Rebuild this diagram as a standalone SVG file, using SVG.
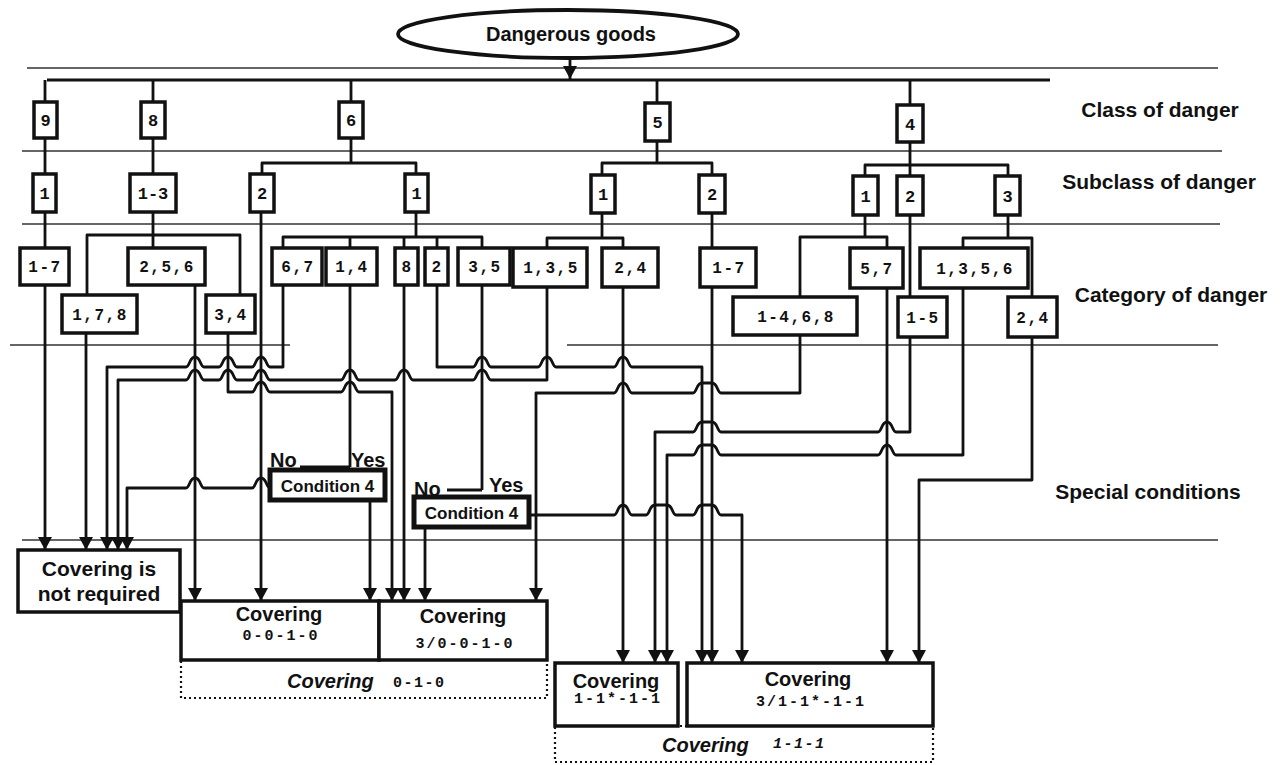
<svg xmlns="http://www.w3.org/2000/svg" width="1286" height="765" viewBox="0 0 1286 765">
<style>
.bg{fill:#fff}
.sep{stroke:#333;stroke-width:1.6;fill:none}
.ln{stroke:#111;stroke-width:2.8;fill:none;stroke-linejoin:round}
.box{fill:#fff;stroke:#111;stroke-width:3.5}
.cond{fill:#fff;stroke:#111;stroke-width:5}
.dot{fill:none;stroke:#111;stroke-width:2.2;stroke-dasharray:2 3}
.num{font-family:"Liberation Mono","DejaVu Sans Mono",monospace;font-weight:bold;font-size:17px;text-anchor:middle;fill:#111}
.cat{font-family:"Liberation Mono","DejaVu Sans Mono",monospace;font-weight:bold;font-size:16px;letter-spacing:1.5px;text-anchor:middle;fill:#111}
.code{font-family:"Liberation Mono","DejaVu Sans Mono",monospace;font-weight:bold;font-size:15px;letter-spacing:2px;text-anchor:middle;fill:#111}
.lab{font-family:"Liberation Sans",Arial,sans-serif;font-weight:bold;font-size:21px;text-anchor:middle;fill:#111}
.cov{font-family:"Liberation Sans",Arial,sans-serif;font-weight:bold;font-size:20px;text-anchor:middle;fill:#111}
.yn{font-family:"Liberation Sans",Arial,sans-serif;font-weight:bold;font-size:20px;fill:#111}
.ct{font-family:"Liberation Sans",Arial,sans-serif;font-weight:bold;font-size:17px;text-anchor:middle;fill:#111}
.it{font-family:"Liberation Sans",Arial,sans-serif;font-weight:bold;font-style:italic;font-size:20px;fill:#111}
.itc{font-family:"Liberation Mono","DejaVu Sans Mono",monospace;font-weight:bold;font-size:15px;letter-spacing:1.5px;fill:#111}
</style>
<defs>
<marker id="ah" markerUnits="userSpaceOnUse" markerWidth="13" markerHeight="14" viewBox="0 0 13 14" refX="13" refY="7" orient="auto"><path d="M0,0 L13,7 L0,14 z" fill="#111"/></marker>
</defs>
<rect class="bg" x="0" y="0" width="1286" height="765"/>

<g id="separators">
<path class="sep" d="M27,68 H1218"/>
<path class="sep" d="M22,151 H1222"/>
<path class="sep" d="M22,224 H1220"/>
<path class="sep" d="M10,345 H290 M567,345 H1218"/>
<path class="sep" d="M22,540 H1218"/>
</g>

<g id="row-labels">
<text class="lab" x="1160" y="117">Class of danger</text>
<text class="lab" x="1159" y="189">Subclass of danger</text>
<text class="lab" x="1171" y="302">Category of danger</text>
<text class="lab" x="1148" y="499">Special conditions</text>
</g>

<g id="connectors">
<path class="ln" d="M570,58 V79" marker-end="url(#ah)"/>
<path class="ln" d="M47,80 H1050"/>
<path class="ln" d="M45,80 V102 M153,80 V102 M351,80 V102 M657,80 V103 M910,80 V105"/>
<path class="ln" d="M45,138 V174 M153,138 V174"/>
<path class="ln" d="M351,138 V163 M262,174 V163 H416 V174"/>
<path class="ln" d="M657,141 V163 M602,175 V163 H712 V175"/>
<path class="ln" d="M910,142 V176 M865,176 V165 H1008 V176"/>
<path class="ln" d="M45,212 V248"/>
<path class="ln" d="M153,212 V248 M87,295 V235 H240 V295"/>
<path class="ln" d="M416,212 V237 M283,248 V237 H482 V248 M350,237 V248 M404,237 V248 M437,237 V248"/>
<path class="ln" d="M602,213 V238 M547,248 V238 H623 V248"/>
<path class="ln" d="M712,213 V248"/>
<path class="ln" d="M865,215 V237 M800,297 V237 H887 V248"/>
<path class="ln" d="M910,215 V297"/>
<path class="ln" d="M1008,215 V238 M963,248 V238 H1032 V297"/>

<path class="ln" d="M45,285 V550" marker-end="url(#ah)"/>
<path class="ln" d="M86,333 V550" marker-end="url(#ah)"/>
<path class="ln" d="M283,285 V367 L270,367 C266,367 267,357 261,357 C255,357 256,367 252,367 L237,367 C233,367 234,357 228,357 C222,357 223,367 219,367 L204,367 C200,367 201,357 195,357 C189,357 190,367 186,367 L107,367 V550" marker-end="url(#ah)"/>
<path class="ln" d="M547,287 V380 L491,380 C487,380 488,370 482,370 C476,370 477,380 473,380 L413,380 C409,380 410,370 404,370 C398,370 399,380 395,380 L359,380 C355,380 356,370 350,370 C344,370 345,380 341,380 L270,380 C266,380 267,370 261,370 C255,370 256,380 252,380 L237,380 C233,380 234,370 228,370 C222,370 223,380 219,380 L204,380 C200,380 201,370 195,370 C189,370 190,380 186,380 L118,380 V550" marker-end="url(#ah)"/>
<path class="ln" d="M270,488 C266,488 267,478 261,478 C255,478 256,488 252,488 L204,488 C200,488 201,478 195,478 C189,478 190,488 186,488 L127,488 V550" marker-end="url(#ah)"/>
<path class="ln" d="M195,285 V601" marker-end="url(#ah)"/>
<path class="ln" d="M261,212 V601" marker-end="url(#ah)"/>
<path class="ln" d="M228,333 V392 L252,392 C256,392 255,382 261,382 C267,382 266,392 270,392 L341,392 C345,392 344,382 350,382 C356,382 355,392 359,392 L392,392 V601" marker-end="url(#ah)"/>
<path class="ln" d="M350,285 V467 M300,467 H350"/>
<path class="ln" d="M370,500 V601" marker-end="url(#ah)"/>
<path class="ln" d="M404,285 V601" marker-end="url(#ah)"/>
<path class="ln" d="M482,285 V490 M447,490 H482"/>
<path class="ln" d="M425,527 V601" marker-end="url(#ah)"/>
<path class="ln" d="M800,335 V393 L721,393 C717,393 718,383 712,383 L702,383 C696,383 697,393 693,393 L632,393 C628,393 629,383 623,383 C617,383 618,393 614,393 L536,393 V601" marker-end="url(#ah)"/>
<path class="ln" d="M437,285 V367 L473,367 C477,367 476,357 482,357 C488,357 487,367 491,367 L538,367 C542,367 541,357 547,357 C553,357 552,367 556,367 L614,367 C618,367 617,357 623,357 C629,357 628,367 632,367 L702,367 V663" marker-end="url(#ah)"/>
<path class="ln" d="M529,515 L614,515 C618,515 617,505 623,505 C629,505 628,515 632,515 L646,515 C650,515 649,505 655,505 L667,505 C673,505 672,515 676,515 L693,515 C697,515 696,505 702,505 L712,505 C718,505 717,515 721,515 L742,515 V663" marker-end="url(#ah)"/>
<path class="ln" d="M623,287 V663" marker-end="url(#ah)"/>
<path class="ln" d="M712,287 V663" marker-end="url(#ah)"/>
<path class="ln" d="M887,288 V663" marker-end="url(#ah)"/>
<path class="ln" d="M910,337 V432 L896,432 C892,432 893,422 887,422 C881,422 882,432 878,432 L721,432 C717,432 718,422 712,422 L702,422 C696,422 697,432 693,432 L655,432 V663" marker-end="url(#ah)"/>
<path class="ln" d="M963,288 V455 L896,455 C892,455 893,445 887,445 C881,445 882,455 878,455 L721,455 C717,455 718,445 712,445 L702,445 C696,445 697,455 693,455 L667,455 V663" marker-end="url(#ah)"/>
<path class="ln" d="M1032,337 V480 H919 V663" marker-end="url(#ah)"/>
</g>

<g id="root"><ellipse cx="568" cy="34" rx="170" ry="24" fill="#fff" stroke="#111" stroke-width="3.8"/><text class="lab" x="571" y="41" style="font-size:20px">Dangerous goods</text></g>

<g id="class-9"><rect class="box" x="34" y="102" width="23" height="36"/><text class="num" x="45.5" y="126">9</text></g>
<g id="class-8"><rect class="box" x="141" y="102" width="24" height="36"/><text class="num" x="153" y="126">8</text></g>
<g id="class-6"><rect class="box" x="339" y="102" width="24" height="36"/><text class="num" x="351" y="126">6</text></g>
<g id="class-5"><rect class="box" x="645" y="103" width="25" height="38"/><text class="num" x="657.5" y="128">5</text></g>
<g id="class-4"><rect class="box" x="897" y="105" width="26" height="37"/><text class="num" x="910" y="130">4</text></g>

<g id="sub-9-1"><rect class="box" x="33" y="174" width="23" height="38"/><text class="num" x="44.5" y="199">1</text></g>
<g id="sub-8-1-3"><rect class="box" x="130" y="174" width="46" height="38"/><text class="num" x="153" y="199">1-3</text></g>
<g id="sub-6-2"><rect class="box" x="250" y="174" width="24" height="38"/><text class="num" x="262" y="199">2</text></g>
<g id="sub-6-1"><rect class="box" x="405" y="174" width="23" height="38"/><text class="num" x="416.5" y="199">1</text></g>
<g id="sub-5-1"><rect class="box" x="591" y="175" width="24" height="38"/><text class="num" x="603" y="200">1</text></g>
<g id="sub-5-2"><rect class="box" x="699" y="175" width="26" height="38"/><text class="num" x="712" y="200">2</text></g>
<g id="sub-4-1"><rect class="box" x="853" y="176" width="25" height="39"/><text class="num" x="865.5" y="202">1</text></g>
<g id="sub-4-2"><rect class="box" x="897" y="176" width="26" height="39"/><text class="num" x="910" y="202">2</text></g>
<g id="sub-4-3"><rect class="box" x="995" y="176" width="25" height="39"/><text class="num" x="1007.5" y="202">3</text></g>

<g id="cat-9-1-7"><rect class="box" x="20" y="248" width="49" height="37"/><text class="cat" x="45" y="272">1-7</text></g>
<g id="cat-8-256"><rect class="box" x="128" y="248" width="77" height="37"/><text class="cat" x="167" y="272">2,5,6</text></g>
<g id="cat-8-178"><rect class="box" x="62" y="295" width="75" height="38"/><text class="cat" x="100" y="320">1,7,8</text></g>
<g id="cat-8-34"><rect class="box" x="206" y="295" width="49" height="38"/><text class="cat" x="231" y="320">3,4</text></g>
<g id="cat-6-67"><rect class="box" x="272" y="248" width="50" height="37"/><text class="cat" x="298" y="272">6,7</text></g>
<g id="cat-6-14"><rect class="box" x="326" y="248" width="51" height="37"/><text class="cat" x="352" y="272">1,4</text></g>
<g id="cat-6-8"><rect class="box" x="395" y="248" width="23" height="37"/><text class="cat" x="407" y="272">8</text></g>
<g id="cat-6-2"><rect class="box" x="425" y="248" width="23" height="37"/><text class="cat" x="437" y="272">2</text></g>
<g id="cat-6-35"><rect class="box" x="458" y="248" width="52" height="37"/><text class="cat" x="485" y="272">3,5</text></g>
<g id="cat-5-135"><rect class="box" x="513" y="248" width="74" height="39"/><text class="cat" x="551" y="273">1,3,5</text></g>
<g id="cat-5-24"><rect class="box" x="602" y="248" width="56" height="39"/><text class="cat" x="631" y="273">2,4</text></g>
<g id="cat-5-1-7"><rect class="box" x="700" y="248" width="56" height="39"/><text class="cat" x="729" y="273">1-7</text></g>
<g id="cat-4-1-468"><rect class="box" x="733" y="297" width="124" height="38"/><text class="cat" x="796" y="322">1-4,6,8</text></g>
<g id="cat-4-57"><rect class="box" x="850" y="248" width="53" height="40"/><text class="cat" x="877" y="274">5,7</text></g>
<g id="cat-4-1-5"><rect class="box" x="898" y="297" width="49" height="40"/><text class="cat" x="923" y="323">1-5</text></g>
<g id="cat-4-1356"><rect class="box" x="920" y="248" width="108" height="40"/><text class="cat" x="975" y="274">1,3,5,6</text></g>
<g id="cat-4-24"><rect class="box" x="1008" y="297" width="49" height="40"/><text class="cat" x="1033" y="323">2,4</text></g>

<g id="condition-1"><rect class="cond" x="270" y="470" width="115" height="30"/><text class="ct" x="327.5" y="492">Condition 4</text><text class="yn" x="270" y="467">No</text><text class="yn" x="351" y="467">Yes</text></g>
<g id="condition-2"><rect class="cond" x="414" y="497" width="115" height="30"/><text class="ct" x="471.5" y="519">Condition 4</text><text class="yn" x="414" y="496">No</text><text class="yn" x="489" y="492">Yes</text></g>

<g id="not-required"><rect class="box" x="18" y="550" width="162" height="62"/><text class="cov" x="99" y="576" style="font-size:21px">Covering is</text><text class="cov" x="99" y="601" style="font-size:21px">not required</text></g>

<g id="group-010"><rect class="dot" x="181" y="660" width="366" height="38"/><text y="688"><tspan class="it" x="287">Covering</tspan><tspan class="itc" x="393" y="687">0-1-0</tspan></text></g>
<g id="cov-0010"><rect class="box" x="181" y="601" width="198" height="59"/><text class="cov" x="279" y="621">Covering</text><text class="code" x="281" y="640">0-0-1-0</text></g>
<g id="cov-3-0010"><rect class="box" x="379" y="601" width="168" height="59"/><text class="cov" x="463" y="623">Covering</text><text class="code" x="465" y="648">3/0-0-1-0</text></g>

<g id="group-111"><rect class="dot" x="555" y="726" width="378" height="36"/><text y="752"><tspan class="it" x="662">Covering</tspan><tspan class="itc" x="773" y="748" style="font-style:italic">1-1-1</tspan></text></g>
<g id="cov-1111"><rect class="box" x="555" y="663" width="123" height="63"/><text class="cov" x="616" y="688">Covering</text><text class="code" x="618" y="703">1-1*-1-1</text></g>
<g id="cov-3-1111"><rect class="box" x="687" y="663" width="246" height="63"/><text class="cov" x="808" y="686">Covering</text><text class="code" x="811" y="706">3/1-1*-1-1</text></g>
</svg>
